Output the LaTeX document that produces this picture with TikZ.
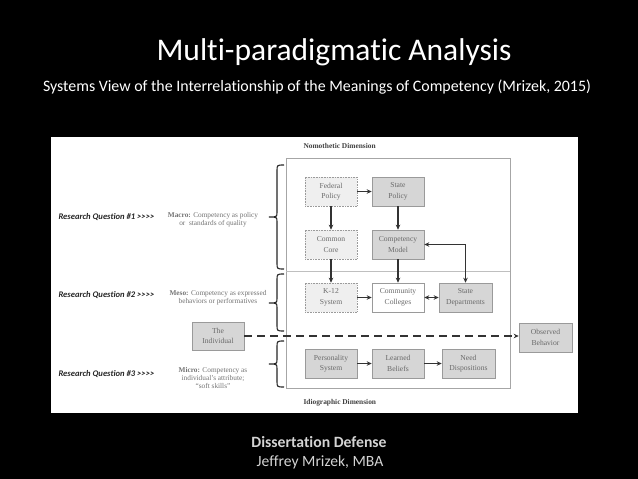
\documentclass[tikz,border=0pt]{standalone}
\usepackage{fontspec}
\setmainfont{Liberation Serif}
\newfontfamily\calib[Ligatures=NoCommon]{Carlito}
\usetikzlibrary{arrows.meta}
\definecolor{boxtext}{HTML}{6A6A6A}
\definecolor{boxline}{HTML}{9A9A9A}
\definecolor{lightfill}{HTML}{EFEFEF}
\definecolor{darkfill}{HTML}{D6D6D6}
\definecolor{arrowcol}{HTML}{333333}
\definecolor{foot}{HTML}{D4D4D4}
\newcommand\mybrace[4]{%
  \draw[bracecol] ({#1+7},#2) .. controls (#1,#2) .. (#1,{#2+6}) -- (#1,{#3-5})
    .. controls (#1,#3) .. ({#1-8},#3) .. controls (#1,#3) .. (#1,{#3+5})
    -- (#1,{#4-6}) .. controls (#1,#4) .. ({#1+7},#4);}
\begin{document}
\begin{tikzpicture}[x=1pt,y=-1pt,
  base/.style={minimum width=52pt,minimum height=29pt,inner sep=0pt,align=center,
    font=\fontsize{7.6}{10.5}\selectfont,text=boxtext,draw=boxline,line width=0.6pt},
  lightbox/.style={base,fill=lightfill,densely dotted},
  darkbox/.style={base,fill=darkfill},
  whitebox/.style={base,fill=white},
  arr/.style={-{Stealth[length=5pt,width=4.5pt]},line width=1.1pt,draw=arrowcol},
  bracecol/.style={line width=1.1pt,draw=black!85},
  rq/.style={anchor=west,font=\calib\fontsize{8.6}{9}\selectfont\bfseries\itshape,text=black!85},
  lvl/.style={align=center,font=\fontsize{7.3}{8.4}\selectfont,text=black!55},
  dim/.style={anchor=west,font=\fontsize{7.4}{8}\selectfont\bfseries,text=black!75}]
\useasboundingbox (0,0) rectangle (638,479);
\fill[black] (0,0) rectangle (638,479);
\fill[white] (51,137) rectangle (578,413);
% titles
\node[text=white,font=\calib\fontsize{31.5}{34}\selectfont] (title) at (334,52) {Multi-paradigmatic Analysis};
\node[text=white,font=\calib\fontsize{15.9}{18}\selectfont] (sub) at (317,87) {Systems View of the Interrelationship of the Meanings of Competency (Mrizek, 2015)};
\node[text=foot,font=\calib\fontsize{15.7}{18}\selectfont\bfseries] (f1) at (319,442) {Dissertation Defense};
\node[text=foot,font=\calib\fontsize{15.6}{18}\selectfont] (f2) at (320,462) {Jeffrey Mrizek, MBA};
% container
\draw[draw=black!35,line width=0.8pt] (286,158) rectangle (510,388);
\draw[draw=black!25,line width=0.8pt] (286,271) -- (510,271);
\node[dim] (nomo) at (300,146) {Nomothetic Dimension};
\node[dim] (idio) at (300,403) {Idiographic Dimension};
% boxes
\node[lightbox] (fed) at (331,191.5) {Federal\\Policy};
\node[darkbox] (sp) at (398,191.5) {State\\Policy};
\node[lightbox] (cc) at (331,244.5) {Common\\Core};
\node[darkbox] (cm) at (398,244.5) {Competency\\Model};
\node[lightbox] (k12) at (331,297.5) {K-12\\System};
\node[whitebox] (col) at (398,297.5) {Community\\Colleges};
\node[darkbox,minimum width=53pt] (sd) at (465.5,297.5) {State\\Departments};
\node[darkbox] (pers) at (331,363.5) {Personality\\System};
\node[darkbox] (lb) at (398,363.5) {Learned\\Beliefs};
\node[darkbox,minimum width=53pt] (nd) at (468.5,363.5) {Need\\Dispositions};
\node[darkbox,minimum height=28pt] (ind) at (218,336) {The\\Individual};
\node[darkbox,minimum width=53pt] (obs) at (545.5,337.5) {Observed\\Behavior};
% arrows
\draw[arr] (fed) -- (sp);
\draw[arr] (fed) -- (cc);
\draw[arr] (sp) -- (cm);
\draw[arr] (cc) -- (k12);
\draw[arr] (cm) -- (col);
\draw[arr] (k12) -- (col);
\draw[arr,{Stealth[length=5pt,width=4.5pt]}-{Stealth[length=5pt,width=4.5pt]}] (col) -- (sd);
\draw[arr,{Stealth[length=5pt,width=4.5pt]}-{Stealth[length=5pt,width=4.5pt]}] (cm.east) -| (sd.north);
\draw[arr] (pers) -- (lb);
\draw[arr] (lb) -- (nd);
\draw[arr,dash pattern=on 8pt off 5pt,line width=2pt] (ind.east) -- (obs.west |- ind.east);
% braces
\mybrace{277}{165}{217}{269}
\mybrace{277}{274}{303}{331}
\mybrace{277}{341}{364}{387}
% labels
\node[rq] (rq1) at (55,217) {Research Question \#1 >>>>};
\node[rq] (rq2) at (55,295) {Research Question \#2 >>>>};
\node[rq] (rq3) at (55,374) {Research Question \#3 >>>>};
\node[lvl] (macro) at (213,220) {\textbf{Macro:} Competency as policy\\or\ \ standards of quality};
\node[lvl] (meso) at (218,298) {\textbf{Meso:} Competency as expressed\\behaviors or performatives};
\node[lvl] (micro) at (213,378) {\textbf{Micro:} Competency as\\individual's attribute;\\``soft skills''};
\end{tikzpicture}
\end{document}
